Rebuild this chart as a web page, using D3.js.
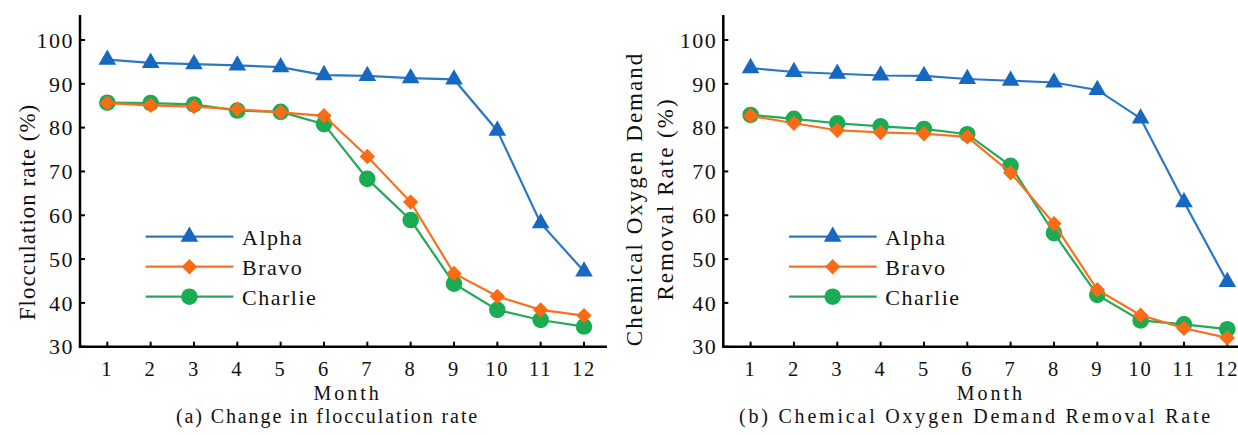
<!DOCTYPE html>
<html>
<head>
<meta charset="utf-8">
<script src="https://cdn.jsdelivr.net/npm/d3@7"></script>
<style>
    body { margin: 0; background: white; }
    svg { display: block; }
</style>
</head>
<body>
<div id="viz"></div>
<script>

const months = [1, 2, 3, 4, 5, 6, 7, 8, 9, 10, 11, 12]
const seriesNames = ["Alpha", "Bravo", "Charlie"]
const yTicks = [30, 40, 50, 60, 70, 80, 90, 100]

// (a) flocculation rate, %
const flocAlpha = [95.5, 94.8, 94.5, 94.2, 93.8, 92.0, 91.8, 91.3, 91.0, 79.3, 58.2, 47.2]
const flocBravo = [85.6, 85.1, 84.8, 84.2, 83.5, 82.7, 73.4, 63.0, 46.7, 41.5, 38.4, 37.1]
const flocCharlie = [85.7, 85.6, 85.3, 83.9, 83.6, 80.8, 68.3, 58.9, 44.4, 38.4, 36.1, 34.6]

// (b) COD removal rate, %
const codAlpha = [93.6, 92.7, 92.3, 91.9, 91.8, 91.1, 90.7, 90.3, 88.6, 82.1, 63.0, 44.8]
const codBravo = [82.7, 81.0, 79.4, 78.9, 78.6, 77.9, 69.7, 58.1, 43.0, 37.2, 34.2, 32.0]
const codCharlie = [82.9, 82.0, 81.0, 80.3, 79.7, 78.5, 71.3, 55.9, 41.8, 36.0, 35.1, 34.0]

const width = 1238
const height = 435
const serif = "'Liberation Serif', 'Times New Roman', Times, 'DejaVu Serif', serif"

var colors = ["#1668c0", "#fb6a15", "#1bab52"]
var lineColors = ["#2a78c4", "#f8701f", "#27a75a"]

const svg = d3.select("#viz")
    .append("svg")
    .attr("width", width)
    .attr("height", height)
    .attr("font-family", serif)

const panels = [
    {
        ax: 80,
        series: [flocAlpha, flocBravo, flocCharlie],
        title: ["Flocculation rate (%)"],
        titleX: [35],
        titleY: 212,
        caption: "(a) Change in flocculation rate",
        capX: 327.5,
        capSpacing: 1.9
    },
    {
        ax: 723.3,
        series: [codAlpha, codBravo, codCharlie],
        title: ["Chemical Oxygen Demand", "Removal Rate (%)"],
        titleX: [642, 673],
        titleY: 199,
        caption: "(b) Chemical Oxygen Demand Removal Rate",
        capX: 976,
        capSpacing: 2.8
    }
]

const axisBottom = 346.7
const axisTop = 15

const y = d3.scaleLinear()
    .domain([30, 100])
    .range([axisBottom, 40])

function markerPath(i) {
    if (i == 0) return d3.symbol().type(d3.symbolTriangle).size(135)()
    if (i == 1) return d3.symbol().type(d3.symbolSquare).size(118)()
    return d3.symbol().type(d3.symbolCircle).size(215)()
}

function addText(sel, size, spacing) {
    return sel.append("text")
        .attr("font-family", serif)
        .attr("fill", "#111")
        .style("font-family", serif)
        .style("font-size", size + "px")
        .style("letter-spacing", spacing + "px")
}

panels.forEach(function (p) {

    const x = d3.scaleLinear()
        .domain([1, 12])
        .range([p.ax + 27.3, p.ax + 27.3 + 476.7])

    const g = svg.append("g")

    // axes
    g.append("line")
        .attr("x1", p.ax).attr("x2", p.ax)
        .attr("y1", axisTop).attr("y2", axisBottom)
        .attr("stroke", "black").attr("stroke-width", 2.5)
    g.append("line")
        .attr("x1", p.ax - 1.2).attr("x2", x(12) + 23)
        .attr("y1", axisBottom).attr("y2", axisBottom)
        .attr("stroke", "black").attr("stroke-width", 2.5)

    yTicks.forEach(function (t) {
        g.append("line")
            .attr("x1", p.ax).attr("x2", p.ax + 5)
            .attr("y1", y(t)).attr("y2", y(t))
            .attr("stroke", "black").attr("stroke-width", 2)
        addText(g, 22, 1.5)
            .attr("x", p.ax - 6)
            .attr("y", y(t))
            .attr("dy", "0.35em")
            .attr("text-anchor", "end")
            .text(t)
    })

    months.forEach(function (m) {
        g.append("line")
            .attr("x1", x(m)).attr("x2", x(m))
            .attr("y1", axisBottom).attr("y2", axisBottom - 5)
            .attr("stroke", "black").attr("stroke-width", 2)
        addText(g, 20.5, 1.8)
            .attr("x", x(m))
            .attr("y", 376)
            .attr("text-anchor", "middle")
            .text(m)
    })

    addText(g, 20, 3)
        .attr("x", (x(1) + x(12)) / 2 + 2)
        .attr("y", 399.5)
        .attr("text-anchor", "middle")
        .text("Month")

    addText(g, 20, p.capSpacing)
        .attr("x", p.capX)
        .attr("y", 422.5)
        .attr("text-anchor", "middle")
        .text(p.caption)

    p.title.forEach(function (t, i) {
        addText(g, 23, p.title.length > 1 ? 2 : 1)
            .attr("transform", "translate(" + p.titleX[i] + "," + p.titleY + ") rotate(-90)")
            .attr("text-anchor", "middle")
            .text(t)
    })

    // series, green drawn before orange so orange sits on top
    const order = [0, 2, 1]
    order.forEach(function (i) {
        const vals = p.series[i]
        const line = d3.line()
            .x((d, k) => x(months[k]))
            .y(d => y(d))
        g.append("path")
            .datum(vals)
            .attr("d", line)
            .attr("fill", "none")
            .attr("stroke", lineColors[i])
            .attr("stroke-width", 2.2)

        g.selectAll(".m" + i)
            .data(vals)
            .join("path")
            .attr("d", markerPath(i))
            .attr("transform", (d, k) => "translate(" + x(months[k]) + "," + y(d) + ")" + (i == 1 ? " rotate(45)" : ""))
            .attr("fill", colors[i])
    })

    // legend
    const legendY = [236.7, 266.7, 296.7]
    seriesNames.forEach(function (name, i) {
        const lg = g.append("g")
        lg.append("line")
            .attr("x1", p.ax + 65.7).attr("x2", p.ax + 153.4)
            .attr("y1", legendY[i]).attr("y2", legendY[i])
            .attr("stroke", lineColors[i]).attr("stroke-width", 2.2)
        lg.append("path")
            .attr("d", markerPath(i))
            .attr("transform", "translate(" + (p.ax + 109.4) + "," + legendY[i] + ")" + (i == 1 ? " rotate(45)" : ""))
            .attr("fill", colors[i])
        addText(lg, 22, 1.5)
            .attr("x", p.ax + 162)
            .attr("y", legendY[i] + 8)
            .text(name)
    })
})

</script>
</body>
</html>
